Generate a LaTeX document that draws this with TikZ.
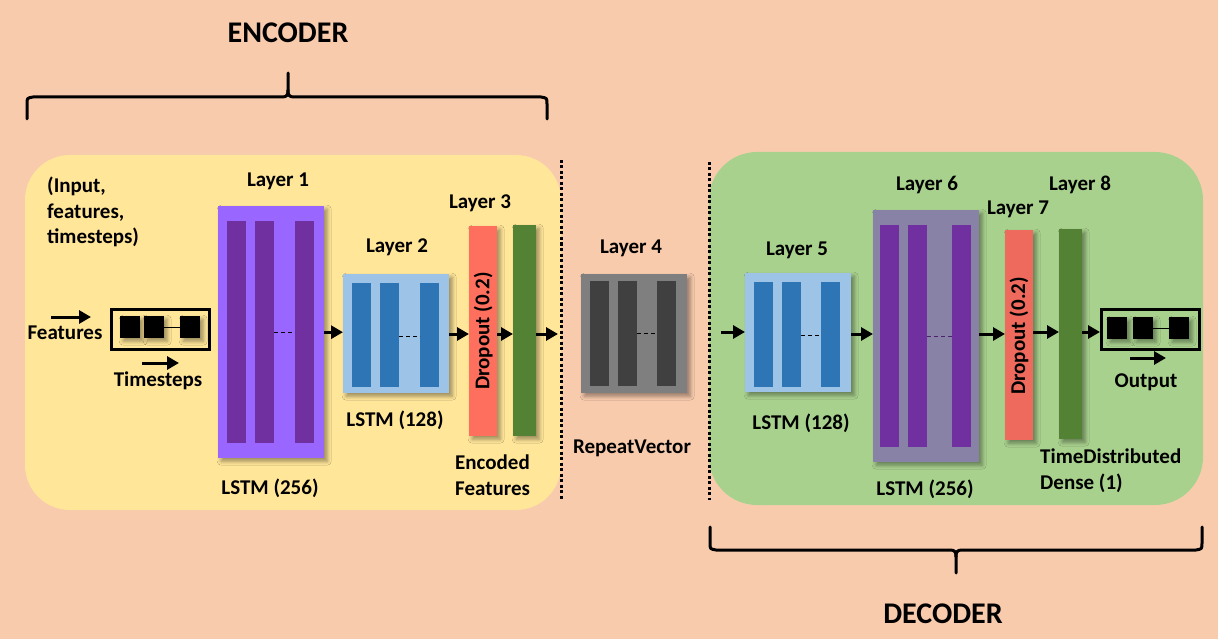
\documentclass[tikz,border=0pt]{standalone}
\usepackage{fontspec}
\setmainfont{Carlito}
\usetikzlibrary{arrows.meta,shadows.blur}
\definecolor{bgc}{HTML}{F8CBAD}
\definecolor{encc}{HTML}{FFE699}
\definecolor{decc}{HTML}{A9D18E}
\definecolor{lpurple}{HTML}{9966FF}
\definecolor{dpurple}{HTML}{7030A0}
\definecolor{lblue}{HTML}{9DC3E6}
\definecolor{dblue}{HTML}{2E75B6}
\definecolor{lgray}{HTML}{7F7F7F}
\definecolor{dgray}{HTML}{404040}
\definecolor{mauve}{HTML}{8883A6}
\definecolor{dropa}{HTML}{FF6F5E}
\definecolor{dropb}{HTML}{EE6A5C}
\definecolor{dgreen}{HTML}{548235}
\tikzset{
  txt/.style={font=\fontsize{21}{25.5}\selectfont\bfseries, inner sep=0pt},
  big/.style={font=\fontsize{30}{34}\selectfont\bfseries, inner sep=0pt},
  shd/.style={blur shadow={shadow xshift=3pt, shadow yshift=-3pt, shadow blur radius=4pt, shadow opacity=40}},
  lbox/.style={shd, draw=none, inner sep=0pt, anchor=north west},
  arr/.style={line width=3pt, -{Triangle[length=12pt,width=13pt]}},
  brace/.style={line width=3pt, line cap=round, line join=round},
  dots/.style={line width=3pt, dash pattern=on 3pt off 2.5pt},
  dsh/.style={line width=1pt, dash pattern=on 4pt off 3pt},
  sq/.style={fill=black, shd, inner sep=0pt, minimum width=20, minimum height=22, anchor=north west},
  iobox/.style={draw=black, line width=3pt, fill=none, inner sep=0pt, minimum width=98, minimum height=40, anchor=north west}
}
\begin{document}
\begin{tikzpicture}[x=1pt,y=-1pt]
\useasboundingbox (0,0) rectangle (1218,639);
\fill[bgc] (0,0) rectangle (1218,639);
% panels
\fill[encc, rounded corners=45] (25,155) rectangle (561,510);
\fill[decc, rounded corners=48] (709,152) rectangle (1203,505);
\draw[dots] (561,160) -- (561,500);
\draw[dots] (709,162) -- (709,500);
% titles and braces
\node[big] (enc) at (288,33) {ENCODER};
\node[big] (dec) at (943,614) {DECODER};
\draw[brace] (27,119) -- (27,104) .. controls (27,98) .. (33,97) -- (282,97) .. controls (287,97) and (288,95) .. (288,90) -- (288,73);
\draw[brace] (288,90) .. controls (288,95) and (289,97) .. (294,97) -- (541,97) .. controls (547,98) .. (547,104) -- (547,119);
\draw[brace] (710,527) -- (710,543) .. controls (710,549) .. (716,550) -- (950,550) .. controls (955,550) and (956,552) .. (956,557) -- (956,573);
\draw[brace] (956,557) .. controls (956,552) and (957,550) .. (962,550) -- (1196,550) .. controls (1202,549) .. (1202,543) -- (1202,527);
% input
\node[txt, align=left, anchor=west] (inlab) at (47,212) {(Input,\\features,\\timesteps)};
\node[iobox] (inbox) at (110,308) {};
\node[sq] (s1) at (120,316) {};
\node[sq] (s2) at (144,316) {};
\node[sq] (s3) at (180,316) {};
\draw[line width=0.8pt] (s2.east) -- (s3.west);
\node[txt] (featl) at (65,333) {Features};
\coordinate (fa1) at (51,317); \coordinate (fa2) at (91,317);
\draw[arr] (fa1) -- (fa2);
\node[txt] (timel) at (158,381) {Timesteps};
\coordinate (ta1) at (142,363); \coordinate (ta2) at (179,363);
\draw[arr] (ta1) -- (ta2);
% Layer 1
\node[lbox, fill=lpurple, minimum width=106, minimum height=252] (l1) at (218,206) {};
\fill[dpurple] (227,221) rectangle (246,443);
\fill[dpurple] (255,221) rectangle (274,443);
\fill[dpurple] (295,221) rectangle (314,443);
\draw[dsh] (274,332) -- (295,332);
\node[txt] (l1t) at (278,181) {Layer 1};
\node[txt] (l1b) at (270,488) {LSTM (256)};
% Layer 2
\node[lbox, fill=lblue, minimum width=106, minimum height=119] (l2) at (343,274) {};
\fill[dblue] (352,283) rectangle (371,387);
\fill[dblue] (380,283) rectangle (399,387);
\fill[dblue] (420,283) rectangle (439,387);
\draw[dsh] (399,336) -- (420,336);
\node[txt] (l2t) at (397,247) {Layer 2};
\node[txt] (l2b) at (395,420) {LSTM (128)};
% Layer 3
\node[lbox, fill=dropa, minimum width=28, minimum height=210] (d1) at (469,226) {};
\node[txt, rotate=90] (d1t) at (d1.center) {Dropout (0.2)};
\node[lbox, fill=dgreen, minimum width=23, minimum height=211] (g1) at (513,225) {};
\node[txt] (l3t) at (480,203) {Layer 3};
\node[txt, align=left, anchor=north west] (l3b) at (455,455) {Encoded\\Features};
\coordinate (c1) at (558,334);
\draw[arr] (l1.east) -- (l1.east -| l2.west);
\draw[arr] (l2.east |- c1) -- (d1.west |- c1);
\draw[arr] (d1.east |- c1) -- (g1.west |- c1);
\draw[arr] (g1.east |- c1) -- (c1);
% Layer 4
\node[lbox, fill=lgray, minimum width=106, minimum height=119] (l4) at (581,274) {};
\fill[dgray] (590,281) rectangle (609,386);
\fill[dgray] (618,281) rectangle (637,386);
\fill[dgray] (657,281) rectangle (676,386);
\draw[dsh] (637,333) -- (657,333);
\node[txt] (l4t) at (631,248) {Layer 4};
\node[txt] (l4b) at (632,448) {RepeatVector};
% Layer 5
\node[lbox, fill=lblue, minimum width=106, minimum height=119] (l5) at (745,273) {};
\fill[dblue] (754,282) rectangle (773,387);
\fill[dblue] (782,282) rectangle (801,387);
\fill[dblue] (821,282) rectangle (840,387);
\draw[dsh] (801,335) -- (821,335);
\node[txt] (l5t) at (797,250) {Layer 5};
\node[txt] (l5b) at (801,423) {LSTM (128)};
\coordinate (c2) at (721,332);
\draw[arr] (c2) -- (c2 -| l5.west);
% Layer 6
\node[lbox, fill=mauve, minimum width=106, minimum height=252] (l6) at (873,210) {};
\fill[dpurple] (880,225) rectangle (899,447);
\fill[dpurple] (908,225) rectangle (927,447);
\fill[dpurple] (952,225) rectangle (971,447);
\draw[dsh, draw=dpurple!70!black] (927,336) -- (952,336);
\node[txt] (l6t) at (927,185) {Layer 6};
\node[txt] (l6b) at (925,489) {LSTM (256)};
\draw[arr] (l5.east |- 0,334) -- (l6.west |- 0,334);
% Layer 7
\node[lbox, fill=dropb, minimum width=28, minimum height=210] (d2) at (1005,230) {};
\node[txt, rotate=90] (d2t) at (1019,336) {Dropout (0.2)};
\node[txt] (l7t) at (1018,209) {Layer 7};
\draw[arr] (l6.east |- 0,334) -- (d2.west |- 0,334);
% Layer 8
\node[lbox, fill=dgreen, minimum width=23, minimum height=210] (g2) at (1059,229) {};
\node[txt] (l8t) at (1080,185) {Layer 8};
\node[txt, align=left, anchor=north west] (l8b) at (1040,449) {TimeDistributed\\Dense (1)};
\draw[arr] (d2.east |- 0,332) -- (g2.west |- 0,332);
% Output
\node[iobox] (outbox) at (1100,308) {};
\node[sq] (o1) at (1107,317) {};
\node[sq] (o2) at (1133,317) {};
\node[sq] (o3) at (1169,317) {};
\draw[line width=0.8pt] (o2.east) -- (o3.west);
\draw[arr] (g2.east |- 0,332) -- (outbox.west |- 0,332);
\coordinate (oa1) at (1130,358); \coordinate (oa2) at (1166,358);
\draw[arr] (oa1) -- (oa2);
\node[txt] (outl) at (1146,382) {Output};
\end{tikzpicture}
\end{document}
